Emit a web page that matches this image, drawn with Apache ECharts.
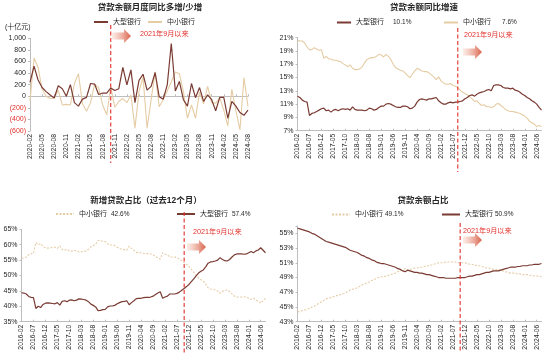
<!DOCTYPE html>
<html><head><meta charset="utf-8">
<script src="https://cdn.jsdelivr.net/npm/echarts@6/dist/echarts.min.js"></script>
<style>html,body{margin:0;padding:0;background:#fff}#c{width:550px;height:362px}</style>
</head><body><div id="c"></div>
<script>
// ---------- category helpers ----------
function months(y, m, n) {
  const out = [];
  for (let i = 0; i < n; i++) {
    out.push(y + '-' + (m < 10 ? '0' + m : m));
    m++; if (m > 12) { m = 1; y++; }
  }
  return out;
}
const monthsShort = months(2020, 2, 55);   // 2020-02 .. 2024-08
const monthsLong = months(2016, 2, 103);   // 2016-02 .. 2024-08

// ---------- chart 1: 贷款余额月度同比多增/少增 (十亿元) ----------
const yoyLarge = [240,520,280,150,80,20,-30,180,130,0,200,-110,-170,-50,-20,220,210,30,55,55,140,100,130,500,195,455,-110,275,380,105,170,410,-10,-50,195,910,90,255,-60,-170,220,-25,150,-90,25,-60,-250,-20,-20,-380,-90,-170,-280,-330,-240];
const yoySmall = [-80,660,500,120,0,-40,-30,100,-150,-140,-150,220,390,-130,-260,-110,210,150,-150,-320,160,-190,-90,-40,-110,20,-550,80,330,-550,-60,420,-180,-60,90,250,420,390,80,-380,-150,-380,70,-130,170,-110,-120,-30,-240,-510,120,-250,-580,320,-180];

// ---------- chart 2: 贷款余额同比增速 (%) ----------
const growthLarge = [12.2,12.0,11.6,11.4,11.3,9.3,9.6,9.7,9.9,10.1,10.3,10.4,10.0,10.1,9.8,10.1,10.2,10.0,10.2,10.3,10.2,10.3,10.1,10.6,10.2,10.1,10.1,10.1,10.0,10.1,10.4,10.3,10.1,10.2,10.5,10.7,10.7,11.0,11.1,11.0,10.8,10.6,10.5,10.5,10.7,10.7,10.6,10.3,10.4,10.7,11.3,11.7,11.8,11.7,11.6,11.8,11.8,11.9,12.0,11.5,11.2,11.0,11.0,11.2,11.3,11.2,11.3,11.3,11.4,11.5,11.8,12.0,12.3,12.4,12.2,12.5,12.7,12.8,12.9,13.1,13.2,13.0,13.8,13.9,13.9,13.8,13.5,13.4,13.4,13.3,13.4,13.1,13.0,12.8,12.5,12.3,12.0,11.8,11.5,11.3,11.0,10.5,10.1];
const growthSmall = [20.6,20.5,20.5,20.2,19.6,19.2,19.2,19.5,19.3,19.1,19.2,17.9,18.2,17.8,17.8,17.6,17.6,17.5,17.4,17.1,16.9,16.6,16.9,16.4,16.2,16.2,16.3,16.6,17.2,17.7,17.9,18.0,18.0,18.2,18.5,18.4,18.1,18.5,18.2,17.7,17.0,16.5,16.3,16.1,16.0,15.7,15.3,15.0,15.5,16.0,16.4,16.2,16.0,15.9,15.9,15.7,15.4,15.1,14.7,15.1,14.5,14.2,14.0,14.0,14.1,13.8,13.7,13.5,13.1,12.8,12.6,12.4,12.1,11.8,11.4,11.5,11.1,10.8,10.9,10.6,10.6,10.5,10.6,11.0,11.1,10.8,10.5,10.2,10.0,9.9,9.9,9.8,9.7,9.6,9.4,9.2,8.9,8.4,8.2,8.0,7.6,7.8,7.6];

// ---------- chart 3: 新增贷款占比（过去12个月） (%) ----------
const newShareSmall = [55.6,55.7,56.0,56.8,57.1,57.2,60.7,60.0,60.4,59.4,59.0,58.9,59.0,59.1,59.2,58.8,59.6,58.4,58.2,58.5,58.0,57.9,58.2,58.0,57.6,57.7,57.8,58.0,58.5,59.3,59.7,60.2,61.4,61.3,61.1,61.0,60.2,59.9,59.9,59.7,59.2,58.8,58.5,58.4,58.2,59.5,58.8,58.2,57.5,57.4,57.4,57.2,57.1,57.1,57.0,56.7,56.2,55.7,55.3,57.4,57.0,56.7,56.0,56.0,56.0,55.8,55.4,54.8,54.2,53.6,52.9,52.0,51.1,50.1,49.2,48.6,48.2,47.2,46.0,45.6,45.5,45.3,45.0,44.2,44.8,45.2,45.3,44.8,44.0,43.3,43.0,43.0,43.0,43.1,43.0,42.6,42.2,42.6,42.0,41.7,41.0,41.8,42.6];
const newShareLarge = [44.4,44.3,44.0,43.2,42.9,42.8,39.3,40.0,39.6,40.6,41.0,41.1,41.0,40.9,40.8,41.2,40.4,41.6,41.8,41.5,42.0,42.1,41.8,42.0,42.4,42.3,42.2,42.0,41.5,40.7,40.3,39.8,38.6,38.7,38.9,39.0,39.8,40.1,40.1,40.3,40.8,41.2,41.5,41.6,41.8,40.5,41.2,41.8,42.5,42.6,42.6,42.8,42.9,42.9,43.0,43.3,43.8,44.3,44.7,42.6,43.0,43.3,44.0,44.0,44.0,44.2,44.6,45.2,45.8,46.4,47.1,48.0,48.9,49.9,50.8,51.4,51.8,52.8,54.0,54.4,54.5,54.7,55.0,55.8,55.2,54.8,54.7,55.2,56.0,56.7,57.0,57.0,57.0,56.9,57.0,57.4,57.8,57.4,58.0,58.3,59.0,58.2,57.4];

// ---------- chart 4: 贷款余额占比 (%) ----------
const stockShareSmall = [44.3,44.4,44.5,44.6,44.7,44.8,45.0,45.1,45.3,45.5,45.7,45.9,46.1,46.2,46.3,46.4,46.5,46.6,46.7,46.8,46.9,47.1,47.3,47.4,47.5,47.6,47.8,48.0,48.1,48.3,48.4,48.6,48.7,48.9,49.0,49.1,49.1,49.2,49.3,49.4,49.5,49.6,49.8,49.9,50.1,50.2,50.0,50.1,50.2,50.3,50.3,50.4,50.4,50.5,50.6,50.6,50.7,50.8,50.9,51.0,51.0,51.0,51.1,51.1,51.1,51.1,51.1,51.0,51.0,51.0,51.0,50.9,50.8,50.8,50.7,50.6,50.6,50.5,50.4,50.3,50.3,50.2,50.1,50.1,50.1,50.0,49.9,49.8,49.7,49.6,49.6,49.6,49.5,49.5,49.4,49.4,49.4,49.3,49.3,49.2,49.2,49.2,49.1];
const stockShareLarge = [55.7,55.6,55.5,55.4,55.3,55.2,55.0,54.9,54.7,54.5,54.3,54.1,53.9,53.8,53.7,53.6,53.5,53.4,53.3,53.2,53.1,52.9,52.7,52.6,52.5,52.4,52.2,52.0,51.9,51.7,51.6,51.4,51.3,51.1,51.0,50.9,50.9,50.8,50.7,50.6,50.5,50.4,50.2,50.1,49.9,49.8,50.0,49.9,49.8,49.7,49.7,49.6,49.6,49.5,49.4,49.4,49.3,49.2,49.1,49.0,49.0,49.0,48.9,48.9,48.9,48.9,48.9,49.0,49.0,49.0,49.0,49.1,49.2,49.2,49.3,49.4,49.4,49.5,49.6,49.7,49.7,49.8,49.9,49.9,49.9,50.0,50.1,50.2,50.3,50.4,50.4,50.4,50.5,50.5,50.6,50.6,50.6,50.7,50.7,50.8,50.8,50.8,50.9];

// ---------- texts ----------
const titles = ['贷款余额月度同比多增/少增', '贷款余额同比增速', '新增贷款占比（过去12个月）', '贷款余额占比'];
const markCats = ['2021-10', '2021-09', '2021-10', '2021-10'];
const markText = '2021年9月以来';
const unitText = '(十亿元)';

// ---------- styles ----------
const FONT = "'Liberation Sans','Noto Sans CJK SC',sans-serif";
const DARK = '#7A3B33';
const LIGHT = '#E5CCA5';
const RED = '#E0302B';
const AXIS = '#BDBDBD';
const TXT = '#262626';

const last = a => a[a.length - 1];
const legendInfo = {
  A1: ['大型银行', ''], A2: ['中小银行', ''],
  B1: ['大型银行', last(growthLarge).toFixed(1) + '%', 9],
  B2: ['中小银行', last(growthSmall).toFixed(1) + '%', 11],
  C1: ['中小银行', last(newShareSmall).toFixed(1) + '%', 4],
  C2: ['大型银行', last(newShareLarge).toFixed(1) + '%', 4],
  D1: ['中小银行', last(stockShareSmall).toFixed(1) + '%', 2],
  D2: ['大型银行', last(stockShareLarge).toFixed(1) + '%', 2]
};
function legendFmt(name) {
  const info = legendInfo[name];
  return info[1] ? '{n|' + info[0] + '}{v|' + info[1] + '}' : '{n|' + info[0] + '}';
}
function lg(name, left, top, iw) {
  return {
    data: [name], left: left, top: top, itemWidth: iw, itemHeight: 6, padding: 0,
    formatter: legendFmt,
    itemStyle: { opacity: 0 },
    textStyle: {
      fontSize: 7, color: TXT, fontFamily: FONT,
      rich: { n: { fontSize: 7, color: TXT, fontFamily: FONT },
              v: { fontSize: 6.5, color: TXT, fontFamily: FONT, padding: [0, 0, 0, (legendInfo[name][2] || 0)] } }
    }
  };
}
function catAxis(gi, cats, interval) {
  return {
    gridIndex: gi, type: 'category', data: cats, boundaryGap: false,
    axisLine: { onZero: false, lineStyle: { color: AXIS } },
    axisTick: { interval: interval, length: 2, inside: true, lineStyle: { color: AXIS } },
    axisLabel: { rotate: 90, interval: interval, fontSize: 6.8, color: TXT, margin: 3, fontFamily: FONT }
  };
}
function valAxis(gi, min, max, interval, fmt, color) {
  return {
    gridIndex: gi, type: 'value', min: min, max: max, interval: interval,
    splitLine: { show: false },
    axisLine: { show: true, lineStyle: { color: AXIS } },
    axisTick: { show: true, length: 2, lineStyle: { color: AXIS } },
    axisLabel: { fontSize: 7, color: color || TXT, margin: 4, formatter: fmt, fontFamily: FONT }
  };
}
function line(name, data, xi, yi, color, width, dashed, z) {
  return {
    type: 'line', name: name, data: data, xAxisIndex: xi, yAxisIndex: yi,
    symbol: 'none', smooth: false, z: z || 2,
    lineStyle: { color: color, width: width, type: dashed ? [2, 1.5] : 'solid' },
    itemStyle: { color: color }
  };
}
function commas(v) { return String(v).replace(/\B(?=(\d{3})+(?!\d))/g, ','); }

const option = {
  animation: false,
  backgroundColor: '#fff',
  textStyle: { fontFamily: FONT },
  title: [
    { text: titles[0], left: 150, top: 3, textAlign: 'center' },
    { text: titles[1], left: 424, top: 3, textAlign: 'center' },
    { text: titles[2], left: 146, top: 196, textAlign: 'center' },
    { text: titles[3], left: 423, top: 196, textAlign: 'center' }
  ].map(t => Object.assign(t, { padding: 0, textStyle: { fontSize: 8.5, fontWeight: 'bold', color: TXT, fontFamily: FONT } })),
  legend: [
    lg('A1', 93, 18.5, 14), lg('A2', 147, 18.5, 14),
    lg('B1', 336, 19, 14), lg('B2', 443, 19, 14),
    lg('C1', 55, 210.5, 18), lg('C2', 176, 210.5, 18),
    lg('D1', 331, 211, 18), lg('D2', 441, 211, 18)
  ],
  grid: [
    { left: 30, top: 38.3, width: 218, height: 92.7 },
    { left: 297.5, top: 37.7, width: 244, height: 93 },
    { left: 21.5, top: 229.3, width: 244, height: 92.4 },
    { left: 297.5, top: 226, width: 244, height: 95.7 }
  ],
  xAxis: [
    Object.assign(catAxis(0, monthsShort, 2), { axisLine: { show: false, onZero: false }, axisTick: { show: false } }),
    catAxis(1, monthsLong, 4),
    catAxis(2, monthsLong, 4),
    catAxis(3, monthsLong, 4),
    { gridIndex: 0, type: 'category', data: monthsShort, boundaryGap: false, position: 'top',
      axisLine: { onZero: true, lineStyle: { color: AXIS } },
      axisTick: { interval: 2, length: 2, inside: false, lineStyle: { color: AXIS } },
      axisLabel: { show: false } }
  ],
  yAxis: [
    valAxis(0, -600, 1000, 200, v => v < 0 ? '(' + commas(-v) + ')' : commas(v), v => parseFloat(v) < 0 ? RED : TXT),
    valAxis(1, 7, 21, 2, v => v + '%'),
    valAxis(2, 35, 65, 5, v => v + '%'),
    valAxis(3, 43, 56, 2, v => v > 55 ? '' : v + '%')
  ],
  series: [
    line('A2', yoySmall, 0, 0, LIGHT, 1.1, false, 2),
    line('A1', yoyLarge, 0, 0, DARK, 1.2, false, 3),
    line('B2', growthSmall, 1, 1, LIGHT, 1.1, false, 2),
    line('B1', growthLarge, 1, 1, DARK, 1.2, false, 3),
    line('C1', newShareSmall, 2, 2, LIGHT, 1.1, true, 2),
    line('C2', newShareLarge, 2, 2, DARK, 1.2, false, 3),
    line('D1', stockShareSmall, 3, 3, LIGHT, 1.1, true, 2),
    line('D2', stockShareLarge, 3, 3, DARK, 1.2, false, 3)
  ]
};

const chart = echarts.init(document.getElementById('c'), null, { renderer: 'canvas' });
chart.setOption(option);

// annotation: red dashed line at the period start, arrow and label
const spans = [[25, 163], [28, 172], [212, 353], [223, 353]];
const xAxisIdx = [0, 1, 2, 3];
const arrowPos = [[112, 36], [463, 52], [187, 247], [463, 240]];
const textPos = [[140, 34], [464, 35], [193, 232], [463, 231]];
const gfx = [];
for (let i = 0; i < 4; i++) {
  const x = chart.convertToPixel({ xAxisIndex: xAxisIdx[i] }, markCats[i]);
  gfx.push({ type: 'line', z: 20, silent: true,
    shape: { x1: x, y1: spans[i][0], x2: x, y2: spans[i][1] },
    style: { stroke: RED, lineWidth: 1.1, lineDash: [4, 2.5] } });
  const ax = arrowPos[i][0], ay = arrowPos[i][1];
  gfx.push({ type: 'polygon', z: 19, silent: true,
    shape: { points: [[ax, ay - 3.5], [ax + 12, ay - 3.5], [ax + 12, ay - 7], [ax + 19, ay], [ax + 12, ay + 7], [ax + 12, ay + 3.5], [ax, ay + 3.5]] },
    style: { fill: new echarts.graphic.LinearGradient(0, 0, 1, 0, [
      { offset: 0, color: 'rgba(250,225,215,0.6)' }, { offset: 1, color: '#D9614A' }]) } });
  gfx.push({ type: 'text', z: 21, silent: true, x: textPos[i][0], y: textPos[i][1],
    style: { text: markText, fill: RED, fontSize: 7.2, fontFamily: FONT, verticalAlign: 'middle' } });
}
gfx.push({ type: 'text', x: 5, y: 27, silent: true,
  style: { text: unitText, fill: TXT, fontSize: 7, fontFamily: FONT, verticalAlign: 'middle' } });
chart.setOption({ graphic: gfx });
</script>
</body></html>
